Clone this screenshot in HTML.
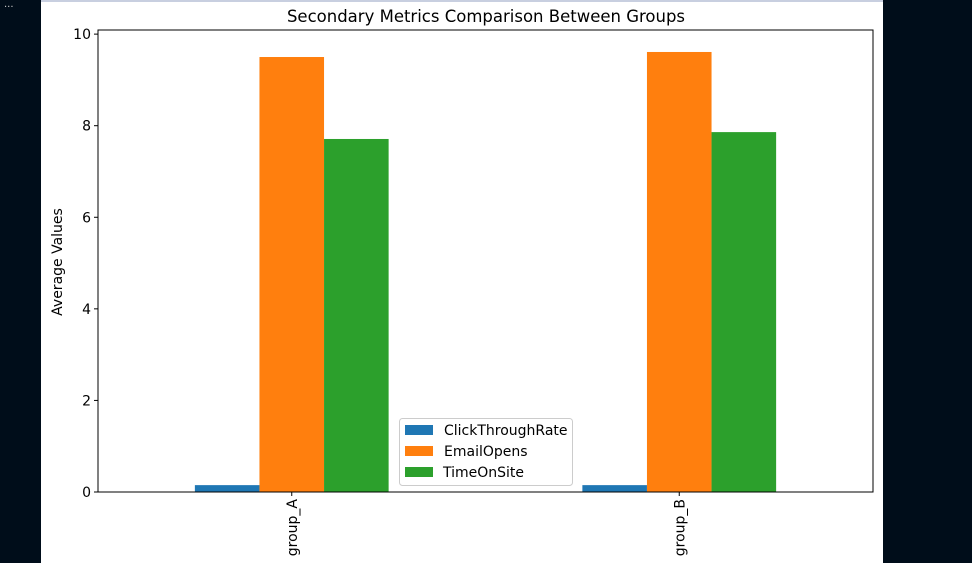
<!DOCTYPE html>
<html><head><meta charset="utf-8"><style>
html,body{margin:0;padding:0;background:#000d1a;width:972px;height:563px;overflow:hidden;font-family:"DejaVu Sans","Liberation Sans",sans-serif}
</style></head><body>
<svg width="972" height="563" style="position:absolute;left:0;top:0">
<rect x="0" y="0" width="972" height="563" fill="#000d1a"/>
<text x="4" y="10" fill="#ccc" font-size="10">···</text>
<rect x="41" y="2" width="842" height="561" fill="#fff"/>
<rect x="41" y="0" width="842" height="2" fill="#c8cfe0"/>
<text x="486" y="22" text-anchor="middle" font-size="16.5">Secondary Metrics Comparison Between Groups</text>
<text transform="translate(62,262) rotate(-90)" text-anchor="middle" font-size="14">Average Values</text>
<g id="bars"></g>
<g id="axes"></g>
<g>
<rect x="399.5" y="418.5" width="173" height="67" rx="3" fill="#fff" fill-opacity="0.8" stroke="#ccc"/>
<rect x="405" y="425" width="28" height="10" fill="#1f77b4"/>
<text x="444" y="435" font-size="14">ClickThroughRate</text>
<rect x="405" y="446" width="28" height="10" fill="#ff7f0e"/>
<text x="444" y="456" font-size="14">EmailOpens</text>
<rect x="405" y="467" width="28" height="10" fill="#2ca02c"/>
<text x="443" y="477" font-size="14">TimeOnSite</text>
</g>
</svg>
<script>
const categories=["group_A","group_B"];
const seriesNames=["ClickThroughRate","EmailOpens","TimeOnSite"];
const clickThroughRate=[0.15,0.15];
const emailOpens=[9.50,9.61];
const timeOnSite=[7.71,7.86];
const yTicks=[0,2,4,6,8,10];
const colors=["#1f77b4","#ff7f0e","#2ca02c"];
const NS="http://www.w3.org/2000/svg";
const L=98,R=873,T=30,B=492,ymax=10.09;
const y=v=>B-(v/ymax)*(B-T);
const xc=i=>L+(R-L)*(0.25+0.5*i);
const bw=(R-L)/2*0.5/3;
const bars=document.getElementById('bars'),axes=document.getElementById('axes');
[clickThroughRate,emailOpens,timeOnSite].forEach((s,k)=>{s.forEach((v,i)=>{
 const r=document.createElementNS(NS,'rect');
 r.setAttribute('x',xc(i)+(k-1.5)*bw);r.setAttribute('width',bw);
 r.setAttribute('y',y(v));r.setAttribute('height',B-y(v));r.setAttribute('fill',colors[k]);
 
 
 bars.appendChild(r);});});
const fr=document.createElementNS(NS,'rect');
fr.setAttribute('x',L);fr.setAttribute('y',T);fr.setAttribute('width',R-L);fr.setAttribute('height',B-T);
fr.setAttribute('fill','none');fr.setAttribute('stroke','#000');fr.setAttribute('stroke-width','1');


axes.appendChild(fr);
yTicks.forEach(t=>{
 const l=document.createElementNS(NS,'line');
 l.setAttribute('x1',L-4);l.setAttribute('x2',L);l.setAttribute('y1',y(t));l.setAttribute('y2',y(t));l.setAttribute('stroke','#000');
 
 
 axes.appendChild(l);
 const tx=document.createElementNS(NS,'text');
 tx.setAttribute('x',L-7);tx.setAttribute('y',y(t)+5);tx.setAttribute('text-anchor','end');tx.setAttribute('font-size','14');
 tx.textContent=t;
 
 
 axes.appendChild(tx);});
categories.forEach((c,i)=>{
 const l=document.createElementNS(NS,'line');
 l.setAttribute('x1',xc(i));l.setAttribute('x2',xc(i));l.setAttribute('y1',B);l.setAttribute('y2',B+4);l.setAttribute('stroke','#000');
 
 
 axes.appendChild(l);
 const tx=document.createElementNS(NS,'text');
 tx.setAttribute('transform','translate('+(xc(i)+5)+','+(B+7)+') rotate(-90)');
 tx.setAttribute('text-anchor','end');tx.setAttribute('font-size','14');
 tx.textContent=c;
 
 
 axes.appendChild(tx);});
</script>
</body></html>
